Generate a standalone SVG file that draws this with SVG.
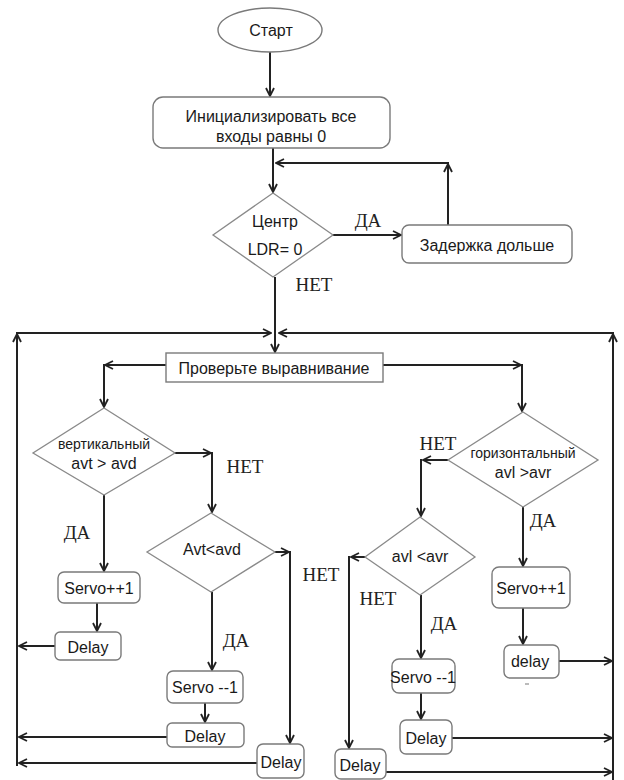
<svg xmlns="http://www.w3.org/2000/svg" width="624" height="780" viewBox="0 0 624 780">
  <style>
    .bg { fill: #ffffff; }
    .box { fill: #ffffff; stroke: #7a7a7a; stroke-width: 1.4; }
    .dia { fill: #ffffff; stroke: #8a8a8a; stroke-width: 1.3; }
    .t { font-family: "Liberation Sans", "DejaVu Sans", sans-serif; font-size: 16px; fill: #1a1a1a; text-anchor: middle; dominant-baseline: central; }
    .ts { font-size: 14px; }
    .lbl { font-family: "Liberation Serif", "DejaVu Serif", serif; font-size: 19px; fill: #222; text-anchor: middle; dominant-baseline: central; }
    .c { fill: none; stroke: #222; stroke-width: 2; marker-end: url(#arr); }
  </style>
  <defs>
    <marker id="arr" viewBox="0 0 10 10" refX="9" refY="5" markerWidth="10" markerHeight="10" markerUnits="userSpaceOnUse" orient="auto">
      <path d="M1,1 L9,5 L1,9" fill="none" stroke="#222" stroke-width="1.8"/>
    </marker>
  </defs>

  <rect class="bg" x="0" y="0" width="624" height="780"/>

  <!-- connectors -->
  <g id="connectors">
    <path class="c" d="M270,52 V96"/>
    <path class="c" d="M273,148 V192"/>
    <path class="c" d="M448,225 V164"/>
    <path class="c" d="M449,163 H276"/>
    <path class="c" d="M333,235 H401"/>
    <path class="c" d="M275,277 V352"/>
    <!-- outer return loops -->
    <path class="c" d="M17,766 V334"/>
    <path class="c" d="M16,333 H271"/>
    <path class="c" d="M613,780 V334"/>
    <path class="c" d="M614,333 H279"/>
    <!-- split after alignment check -->
    <path class="c" d="M166,365 H105"/>
    <path class="c" d="M104,364 V407"/>
    <path class="c" d="M383,365 H521"/>
    <path class="c" d="M522,364 V411"/>
    <!-- vertical branch -->
    <path class="c" d="M175,453 H211"/>
    <path class="c" d="M212,452 V512"/>
    <path class="c" d="M104,495 V571"/>
    <path class="c" d="M97,603 V631"/>
    <path class="c" d="M55,646 H19"/>
    <path class="c" d="M275,552 H289"/>
    <path class="c" d="M290,551 V743"/>
    <path class="c" d="M212,592 V670"/>
    <path class="c" d="M205,703 V722"/>
    <path class="c" d="M167,737 H19"/>
    <path class="c" d="M257,763 H19"/>
    <!-- horizontal branch -->
    <path class="c" d="M448,460 H423"/>
    <path class="c" d="M421,459 V516"/>
    <path class="c" d="M365,557 H351"/>
    <path class="c" d="M349,556 V748"/>
    <path class="c" d="M421,595 V658"/>
    <path class="c" d="M421,693 V719"/>
    <path class="c" d="M452,738 H612"/>
    <path class="c" d="M386,772 H612"/>
    <path class="c" d="M523,507 V566"/>
    <path class="c" d="M523,608 V644"/>
    <path class="c" d="M559,661 H612"/>
  </g>

  <!-- branch labels -->
  <g id="labels">
    <text class="lbl" x="368" y="220">ДА</text>
    <text class="lbl" x="314" y="284">НЕТ</text>
    <text class="lbl" x="245" y="466">НЕТ</text>
    <text class="lbl" x="77" y="532">ДА</text>
    <text class="lbl" x="236" y="640">ДА</text>
    <text class="lbl" x="321" y="574">НЕТ</text>
    <text class="lbl" x="378" y="598">НЕТ</text>
    <text class="lbl" x="444" y="623">ДА</text>
    <text class="lbl" x="438" y="443">НЕТ</text>
    <text class="lbl" x="543" y="520">ДА</text>
  </g>

  <g id="start">
    <ellipse class="box" cx="270" cy="30" rx="52" ry="22"/>
    <text class="t" x="271" y="30">Старт</text>
  </g>

  <g id="init">
    <rect class="box" x="153" y="97" width="237" height="51" rx="10"/>
    <text class="t" x="271" y="116">Инициализировать все</text>
    <text class="t" x="271" y="136">входы равны 0</text>
  </g>

  <g id="center-check">
    <polygon class="dia" points="273,193 333,235 273,277 213,235"/>
    <text class="t" x="275" y="221">Центр</text>
    <text class="t" x="275" y="249">LDR= 0</text>
  </g>

  <g id="wait-longer">
    <rect class="box" x="402" y="225" width="170" height="38" rx="7"/>
    <text class="t" x="487" y="245">Задержка дольше</text>
  </g>

  <g id="check-align">
    <rect class="box" x="166" y="353" width="217" height="29"/>
    <text class="t" x="274" y="368">Проверьте выравнивание</text>
  </g>

  <g id="vertical">
    <polygon class="dia" points="104,408 175,453 104,495 33,453"/>
    <text class="t ts" x="104" y="444">вертикальный</text>
    <text class="t" x="104" y="463">avt &gt; avd</text>
  </g>

  <g id="servo-up-v">
    <rect class="box" x="58" y="572" width="82" height="31" rx="6"/>
    <text class="t" x="99" y="588">Servo++1</text>
  </g>

  <g id="delay-v1">
    <rect class="box" x="55" y="632" width="66" height="28" rx="5"/>
    <text class="t" x="88" y="647">Delay</text>
  </g>

  <g id="avt-lt-avd">
    <polygon class="dia" points="211,513 275,552 211,592 147,552"/>
    <text class="t" x="212" y="549">Avt&lt;avd</text>
  </g>

  <g id="servo-down-v">
    <rect class="box" x="167" y="671" width="76" height="32" rx="6"/>
    <text class="t" x="205" y="687">Servo --1</text>
  </g>

  <g id="delay-v2">
    <rect class="box" x="167" y="723" width="77" height="24" rx="5"/>
    <text class="t" x="205" y="736">Delay</text>
  </g>

  <g id="delay-v3">
    <rect class="box" x="257" y="744" width="47" height="34" rx="6"/>
    <text class="t" x="281" y="762">Delay</text>
  </g>

  <g id="horizontal">
    <polygon class="dia" points="523,412 598,460 523,507 448,460"/>
    <text class="t ts" x="523" y="453">горизонтальный</text>
    <text class="t" x="523" y="472">avl &gt;avr</text>
  </g>

  <g id="avl-lt-avr">
    <polygon class="dia" points="420,517 475,557 420,595 365,557"/>
    <text class="t" x="420" y="556">avl &lt;avr</text>
  </g>

  <g id="servo-down-h">
    <rect class="box" x="392" y="659" width="63" height="34" rx="7"/>
    <text class="t" x="423" y="677">Servo --1</text>
  </g>

  <g id="delay-h2">
    <rect class="box" x="400" y="720" width="52" height="34" rx="6"/>
    <text class="t" x="426" y="738">Delay</text>
  </g>

  <g id="delay-h3">
    <rect class="box" x="335" y="749" width="51" height="30" rx="6"/>
    <text class="t" x="360" y="765">Delay</text>
  </g>

  <g id="servo-up-h">
    <rect class="box" x="492" y="567" width="78" height="41" rx="7"/>
    <text class="t" x="531" y="588">Servo++1</text>
  </g>

  <g id="delay-h1">
    <rect class="box" x="504" y="645" width="55" height="33" rx="6"/>
    <text class="t" x="530" y="661">delay</text>
    <rect x="525" y="683" width="4" height="2" fill="#bbb"/>
  </g>
</svg>
